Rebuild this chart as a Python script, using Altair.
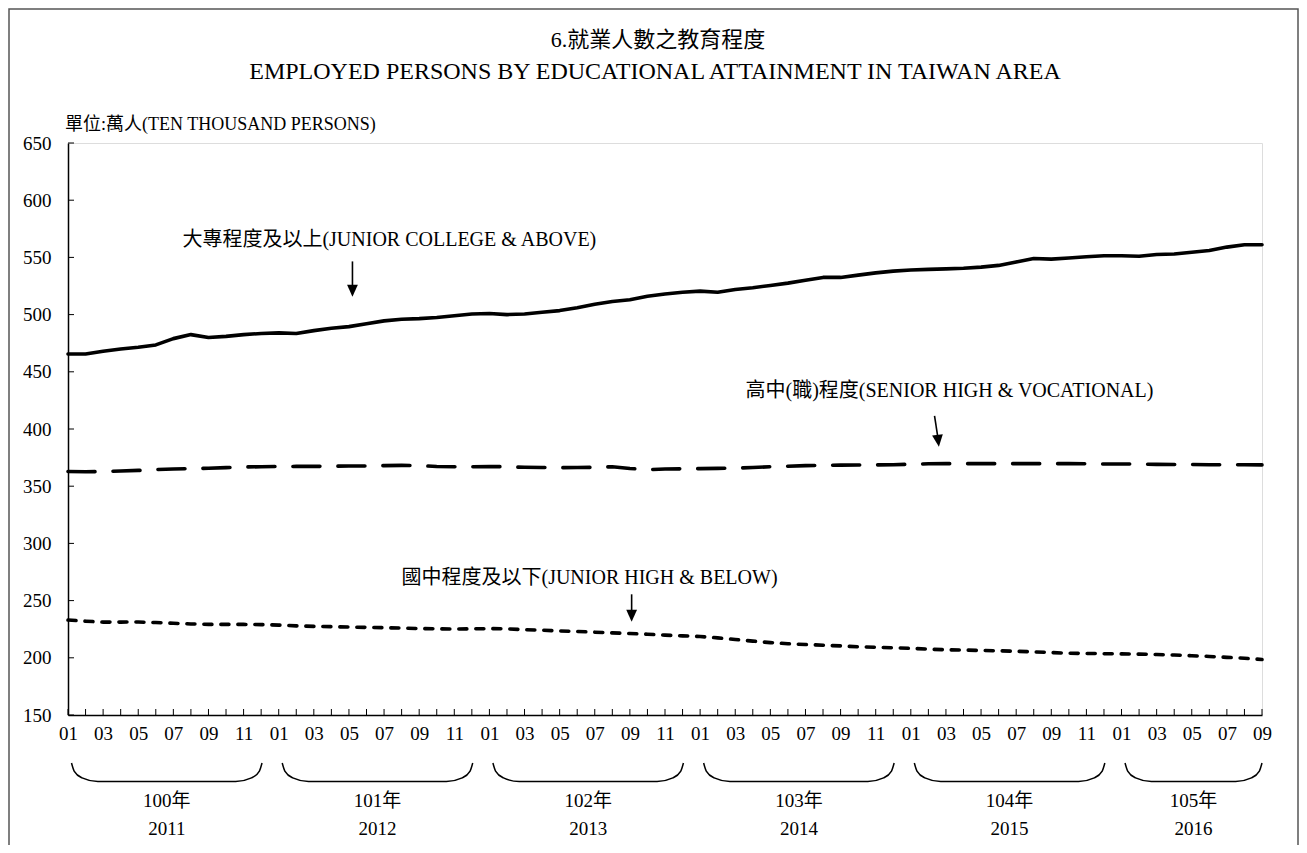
import json
import altair as alt
import pandas as pd

FONT = "'Liberation Serif', 'Noto Sans CJK TC', serif"

title_lines = ["6.就業人數之教育程度",
               "EMPLOYED PERSONS BY EDUCATIONAL ATTAINMENT IN TAIWAN AREA"]
unit_label = "單位:萬人(TEN THOUSAND PERSONS)"
month_labels = ["01", "02", "03", "04", "05", "06", "07", "08", "09", "10", "11", "12"]
years_roc = ["100年", "101年", "102年", "103年", "104年", "105年"]
years_ad = ["2011", "2012", "2013", "2014", "2015", "2016"]
y_ticks = [150, 200, 250, 300, 350, 400, 450, 500, 550, 600, 650]

# 大專程度及以上 (junior college & above), monthly 2011-01 .. 2016-09
college = [465.5, 465.5, 468.0, 470.0, 471.5, 473.5, 479.0, 482.5, 480.0, 481.0, 482.5, 483.5,
           484.0, 483.5, 486.0, 488.0, 489.5, 492.0, 494.5, 496.0, 496.5, 497.5, 499.0, 500.5,
           501.0, 500.0, 500.5, 502.0, 503.5, 506.0, 509.0, 511.5, 513.0, 516.0, 518.0, 519.5,
           520.5, 519.5, 522.0, 523.5, 525.5, 527.5, 530.0, 532.5, 532.5, 534.5, 536.5, 538.0,
           539.0, 539.5, 540.0, 540.5, 541.5, 543.0, 546.0, 549.0, 548.5, 549.5, 550.5, 551.5,
           551.5, 551.0, 552.5, 553.0, 554.5, 556.0, 559.0, 561.0, 561.0]
# 高中(職)程度 (senior high & vocational)
senior = [362.8, 362.6, 362.8, 363.3, 363.8, 364.5, 365.0, 365.4, 365.7, 366.2, 366.8, 367.0,
          367.2, 367.3, 367.3, 367.5, 367.6, 367.7, 368.0, 368.2, 368.0, 367.2, 367.0, 367.0,
          367.2, 367.0, 366.5, 366.3, 366.2, 366.3, 366.5, 367.0, 365.5, 364.5, 365.0, 365.2,
          365.4, 365.6, 365.8, 366.4, 367.0, 367.5, 368.0, 368.2, 368.4, 368.5, 368.6, 368.8,
          369.2, 369.6, 369.7, 369.7, 369.7, 369.7, 369.7, 369.7, 369.7, 369.7, 369.6, 369.4,
          369.4, 369.3, 369.1, 369.0, 369.0, 368.8, 368.8, 368.8, 368.6]
# 國中程度及以下 (junior high & below)
junior = [233.0, 232.0, 231.2, 231.2, 231.3, 230.8, 230.2, 229.6, 229.2, 229.2, 229.2, 229.0,
          228.6, 227.9, 227.5, 227.2, 226.9, 226.6, 226.3, 226.0, 225.6, 225.3, 225.2, 225.3,
          225.5, 225.3, 224.6, 224.1, 223.5, 223.0, 222.4, 221.8, 221.2, 220.6, 219.8, 219.2,
          218.6, 217.4, 216.0, 214.6, 213.3, 212.3, 211.6, 211.0, 210.4, 209.6, 209.2, 208.8,
          208.2, 207.6, 207.0, 206.8, 206.4, 206.1, 205.7, 205.2, 204.6, 204.0, 203.8, 203.6,
          203.4, 203.2, 202.9, 202.4, 201.8, 201.2, 200.4, 199.6, 198.5]

# annotation labels (in data units: month index, value)
ann_labels = ["大專程度及以上(JUNIOR COLLEGE & ABOVE)",
              "高中(職)程度(SENIOR HIGH & VOCATIONAL)",
              "國中程度及以下(JUNIOR HIGH & BELOW)"]
ann_x = [18.3, 50.2, 29.7]
ann_y = [565.0, 433.0, 270.0]
arrow_x_start = [16.2, 49.35, 32.1]
arrow_x_tip = [16.2, 49.6, 32.1]
arrow_y_start = [546.5, 411.5, 255.5]
arrow_y_tip = [515.5, 384.5, 231.5]
arrow_angle = [0, 353, 0]

n = len(college)
idx = list(range(n))
W, H = 1194, 572

df = pd.DataFrame({"idx": idx, "college": college, "senior": senior, "junior": junior})

xs = alt.Scale(domain=[0, n - 1], nice=False, zero=False)
ys = alt.Scale(domain=[150, 650], nice=False, zero=False)

x_axis = alt.Axis(values=list(range(0, n, 2)),
                  labelExpr=f"{json.dumps(month_labels)}[datum.value % 12]",
                  ticks=False, grid=False, domainColor="black", domainWidth=1.5,
                  labelFont=FONT, labelFontSize=19, labelColor="black",
                  labelPadding=9, labelFlush=False, labelOverlap=False, title=None)
y_axis = alt.Axis(values=y_ticks, ticks=False, grid=False, domainColor="black",
                  domainWidth=1.5, labelFont=FONT, labelFontSize=19, labelColor="black",
                  labelPadding=17, labelFlush=False, labelOverlap=False, title=None)


def X(field):
    return alt.X(f"{field}:Q", scale=xs, axis=x_axis)


def Y(field):
    return alt.Y(f"{field}:Q", scale=ys, axis=y_axis)


line_college = alt.Chart(df).mark_line(
    color="black", strokeWidth=3.6, strokeCap="round", strokeJoin="round"
).encode(x=X("idx"), y=Y("college"))
line_senior = alt.Chart(df).mark_line(
    color="black", strokeWidth=3.6, strokeCap="round", strokeDash=[27, 18]
).encode(x=X("idx"), y=Y("senior"))
line_junior = alt.Chart(df).mark_line(
    color="black", strokeWidth=3.6, strokeCap="round", strokeDash=[8, 9]
).encode(x=X("idx"), y=Y("junior"))

# inward ticks
x_ticks = alt.Chart(pd.DataFrame({"idx": idx})).mark_rule(
    color="black", strokeWidth=1
).encode(x=X("idx"), y=alt.value(H - 6), y2=alt.value(H))
y_tick_marks = alt.Chart(pd.DataFrame({"v": y_ticks})).mark_rule(
    color="black", strokeWidth=1
).encode(y=Y("v"), x=alt.value(0), x2=alt.value(6))

# annotations
ann_df = pd.DataFrame({"label": ann_labels, "x": ann_x, "y": ann_y})
ann_text = alt.Chart(ann_df).mark_text(
    font=FONT, fontSize=20, align="center", baseline="middle", color="black"
).encode(x=X("x"), y=Y("y"), text="label:N")

arr_df = pd.DataFrame({
    "x": arrow_x_start, "xt": arrow_x_tip, "y": arrow_y_start,
    "yt": arrow_y_tip, "ang": arrow_angle,
})
arr_df["ye"] = arr_df["yt"] + 6
arr_df["xe"] = arr_df["x"] + (arr_df["xt"] - arr_df["x"]) * 0.85
arrow_stem = alt.Chart(arr_df).mark_rule(color="black", strokeWidth=1.6).encode(
    x=X("x"), x2="xe:Q", y=Y("y"), y2="ye:Q")
arrow_head = alt.Chart(arr_df).mark_point(
    shape="M -0.9 -2 L 0.9 -2 L 0 0 Z", filled=True, size=144, color="black",
    opacity=1, strokeWidth=0
).encode(x=X("xt"), y=Y("yt"), angle=alt.Angle("ang:Q", scale=None))

# year brackets and labels
br_rows = []
yr_rows = []
for i, (roc, ad) in enumerate(zip(years_roc, years_ad)):
    s = 12 * i + 0.2
    e = min(12 * i + 11.05, n - 1)
    pts = [(s, 108), (s + 0.15, 101), (s + 0.6, 95), (s + 1.5, 91.8),
           (e - 1.5, 91.8), (e - 0.6, 95), (e - 0.15, 101), (e, 108)]
    for j, (bx, by) in enumerate(pts):
        br_rows.append({"year": ad, "j": j, "bx": bx, "by": by})
    yr_rows.append({"xm": (s + e) / 2, "roc": roc, "ad": ad, "y1": 74.5, "y2": 50.0})
yr_df = pd.DataFrame(yr_rows)
brackets = alt.Chart(pd.DataFrame(br_rows)).mark_line(
    color="black", strokeWidth=1.5, interpolate="monotone", clip=False
).encode(x=X("bx"), y=Y("by"), detail="year:N", order="j:Q")
year_roc_text = alt.Chart(yr_df).mark_text(
    font=FONT, fontSize=19, align="center", baseline="middle", color="black", clip=False
).encode(x=X("xm"), y=Y("y1"), text="roc:N")
year_ad_text = alt.Chart(yr_df).mark_text(
    font=FONT, fontSize=19, align="center", baseline="middle", color="black", clip=False
).encode(x=X("xm"), y=Y("y2"), text="ad:N")

# titles
title_df = pd.DataFrame({"t": title_lines})
title1 = alt.Chart(title_df.iloc[[0]]).mark_text(
    font=FONT, fontSize=22, align="center", baseline="middle", color="black"
).encode(text="t:N", x=alt.value(590), y=alt.value(-103))
title2 = alt.Chart(title_df.iloc[[1]]).mark_text(
    font=FONT, fontSize=24, align="center", baseline="middle", color="black"
).encode(text="t:N", x=alt.value(587), y=alt.value(-71))
unit = alt.Chart(pd.DataFrame({"t": [unit_label]})).mark_text(
    font=FONT, fontSize=18, align="left", baseline="middle", color="black"
).encode(text="t:N", x=alt.value(-3), y=alt.value(-18))

frame = alt.Chart(pd.DataFrame({"a": [0]})).mark_rect(
    fillOpacity=0, stroke="#555555", strokeWidth=1.5, clip=False
).encode(x=alt.value(-59), x2=alt.value(1230), y=alt.value(-134), y2=alt.value(H + 140))

chart = alt.layer(
    frame, x_ticks, y_tick_marks, line_junior, line_senior, line_college,
    ann_text, arrow_stem, arrow_head, brackets, year_roc_text, year_ad_text,
    title1, title2, unit
).properties(
    width=W, height=H,
    autosize=alt.AutoSizeParams(type="none"),
    padding={"left": 60, "top": 135, "right": 37, "bottom": 130},
).configure_view(
    stroke="#9a9a9a", strokeWidth=1.5
).configure(background="white")

chart.save("out.html", embed_options={"renderer": "svg", "actions": False})
